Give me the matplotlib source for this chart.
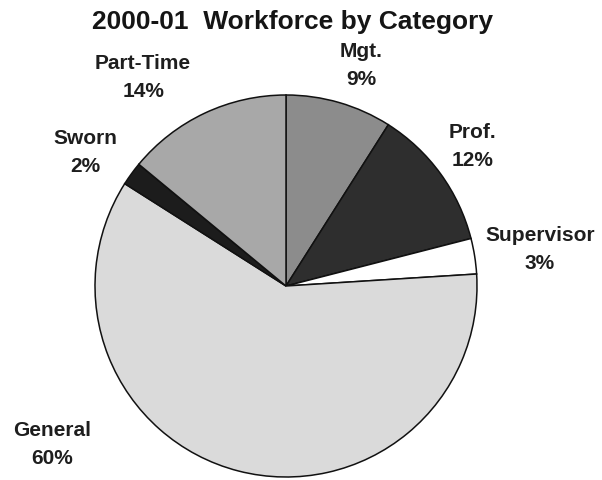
import numpy as np
import matplotlib.pyplot as plt

plt.rcParams['font.family'] = ['Liberation Sans', 'DejaVu Sans']

categories = ['Mgt.', 'Prof.', 'Supervisor', 'General', 'Sworn', 'Part-Time']
shares = [9, 12, 3, 60, 2, 14]
colors = ['#8c8c8c', '#2e2e2e', '#ffffff', '#dadada', '#1c1c1c', '#a8a8a8']

# label placement: angle (deg) and distance in pie radii
label_angle = [71.3, 37, 8.3, 214, 146.3, 124.3]
label_dist = [1.227, 1.22, 1.344, 1.478, 1.265, 1.328]

W, H = 602, 481
cx, cy, r = 286, 481 - 287, 191  # pixel centre/radius

fig = plt.figure(figsize=(W / 100, H / 100), dpi=100)
ax = fig.add_axes([0, 0, 1, 1])

ax.pie(shares, colors=colors, startangle=90, counterclock=False, radius=1,
       wedgeprops=dict(edgecolor='#111111', linewidth=1.1))
ax.set_xlim(-cx / r, (W - cx) / r)
ax.set_ylim(-cy / r, (H - cy) / r)
ax.set_aspect('equal')
ax.axis('off')

for name, val, a, d in zip(categories, shares, label_angle, label_dist):
    t = np.deg2rad(a)
    ax.text(d * np.cos(t), d * np.sin(t), f"{name}\n{val}%", ha='center', va='center',
            fontsize=15, fontweight='bold', color='#1e1e1e', linespacing=1.6)

fig.text(293 / W, 1 - 22.5 / H, "2000-01  Workforce by Category", ha='center', va='center',
         fontsize=19, fontweight='bold', color='#151515')

plt.savefig('out.png', dpi=100)
